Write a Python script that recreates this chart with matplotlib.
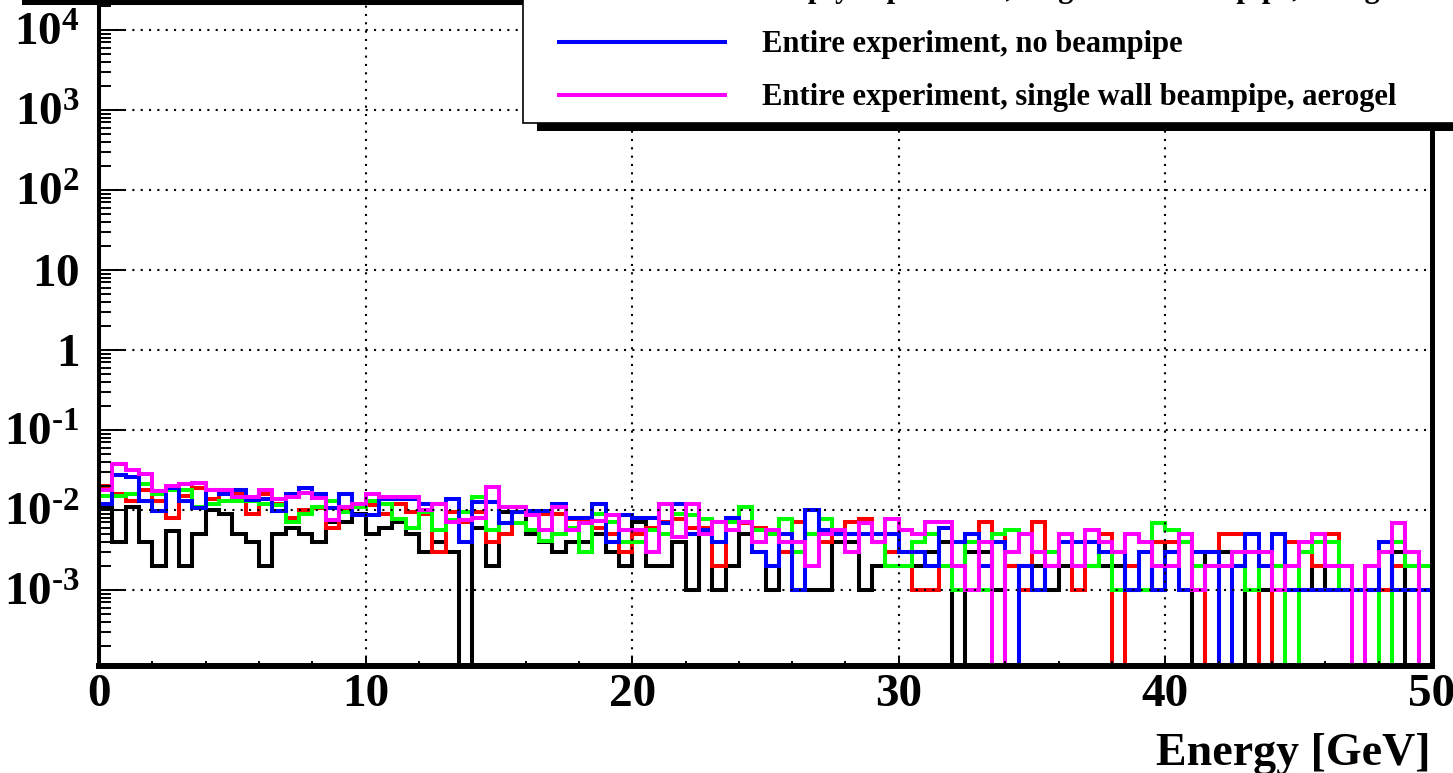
import numpy as np
import matplotlib
matplotlib.use("Agg")
import matplotlib.pyplot as plt
from matplotlib.patches import Rectangle
from matplotlib.lines import Line2D
from matplotlib.ticker import FixedLocator, FixedFormatter, MultipleLocator, LogLocator

plt.rcParams['font.family'] = ['Liberation Serif', 'DejaVu Serif']
plt.rcParams['font.weight'] = 'bold'
plt.rcParams['mathtext.fontset'] = 'custom'
plt.rcParams['mathtext.rm'] = 'Liberation Serif:bold'
plt.rcParams['mathtext.it'] = 'Liberation Serif:bold'
plt.rcParams['mathtext.bf'] = 'Liberation Serif:bold'

# 100 bins of 0.5 GeV from 0 to 50 GeV
edges = np.linspace(0, 50, 101)

black = [0.011, 0.004, 0.011, 0.004, 0.002, 0.0055, 0.002, 0.005, 0.01, 0.009,
         0.005, 0.004, 0.002, 0.005, 0.006, 0.005, 0.004, 0.007, 0.007, 0.009,
         0.005, 0.006, 0.007, 0.005, 0.003, 0.004, 0.003, 0, 0.006, 0.002,
         0.0095, 0.0095, 0.005, 0.004, 0.003, 0.004, 0.004, 0.005, 0.003, 0.002,
         0.007, 0.002, 0.002, 0.004, 0.001, 0.005, 0.001, 0.002, 0.005, 0.003,
         0.001, 0.003, 0.001, 0.001, 0.001, 0.004, 0.004, 0.001, 0.002, 0.002,
         0.002, 0.002, 0.003, 0.004, 0, 0.003, 0.003, 0.001, 0.002, 0.002,
         0.002, 0.001, 0.002, 0.002, 0.002, 0.002, 0.002, 0.001, 0.001, 0.004,
         0.003, 0.004, 0, 0.003, 0.003, 0.002, 0, 0.001, 0.002, 0.001,
         0.001, 0.002, 0.001, 0.001, 0.001, 0.001, 0.001, 0.003, 0, 0.001]

red = [0.02, 0.016, 0.013, 0.018, 0.013, 0.008, 0.015, 0.019, 0.0136, 0.016,
       0.016, 0.009, 0.016, 0.012, 0.008, 0.01, 0.0105, 0.006, 0.01, 0.0115,
       0.0115, 0.009, 0.012, 0.0095, 0.009, 0.003, 0.0095, 0.007, 0.0095, 0.004,
       0.005, 0.0095, 0.009, 0.009, 0.009, 0.0077, 0.0077, 0.006, 0.005, 0.003,
       0.005, 0.006, 0.007, 0.0077, 0.006, 0.006, 0.002, 0.007, 0.0068, 0.006,
       0.005, 0.003, 0.007, 0.005, 0.004, 0.005, 0.007, 0.0077, 0.004, 0.003,
       0.003, 0.001, 0.001, 0.002, 0.002, 0.005, 0.007, 0.005, 0.002, 0.001,
       0.007, 0.002, 0.005, 0.001, 0.002, 0.005, 0, 0.002, 0.003, 0.004,
       0.004, 0.004, 0.002, 0, 0.005, 0.005, 0.003, 0, 0.002, 0.004,
       0.003, 0.002, 0.005, 0.002, 0.001, 0.001, 0.001, 0.002, 0.002, 0.002]

green = [0.015, 0.015, 0.016, 0.021, 0.016, 0.018, 0.018, 0.011, 0.012, 0.013,
         0.013, 0.013, 0.012, 0.0115, 0.007, 0.009, 0.011, 0.013, 0.0095, 0.011,
         0.013, 0.012, 0.0077, 0.006, 0.0095, 0.0056, 0.0075, 0.0095, 0.0147, 0.0057,
         0.0068, 0.0068, 0.0056, 0.0041, 0.005, 0.006, 0.003, 0.009, 0.007, 0.004,
         0.004, 0.0057, 0.005, 0.009, 0.0087, 0.0077, 0.007, 0.007, 0.0108, 0.0057,
         0.005, 0.0077, 0.003, 0.005, 0.0077, 0.005, 0.005, 0.005, 0.004, 0.002,
         0.002, 0.004, 0.005, 0.002, 0.001, 0.004, 0.001, 0.005, 0.0057, 0.005,
         0.003, 0.003, 0.004, 0.004, 0.002, 0.003, 0.001, 0.001, 0.001, 0.0068,
         0.0057, 0.004, 0.002, 0.002, 0.002, 0.002, 0.001, 0.002, 0.002, 0,
         0.003, 0.004, 0.004, 0.001, 0.001, 0.002, 0, 0.004, 0.002, 0.002]

blue = [0.012, 0.027, 0.026, 0.013, 0.0097, 0.019, 0.013, 0.0105, 0.018, 0.016,
        0.018, 0.0133, 0.0136, 0.0097, 0.016, 0.019, 0.016, 0.0107, 0.016, 0.0087,
        0.0087, 0.0136, 0.0136, 0.0136, 0.0118, 0.012, 0.0136, 0.004, 0.0127, 0.0127,
        0.0068, 0.0095, 0.0097, 0.0097, 0.0118, 0.0079, 0.0079, 0.012, 0.004, 0.0087,
        0.0079, 0.0079, 0.0068, 0.012, 0.005, 0.0057, 0.004, 0.0079, 0.007, 0.003,
        0.002, 0.005, 0.001, 0.01, 0.0057, 0.005, 0.005, 0.005, 0.005, 0.005,
        0.003, 0.003, 0.002, 0.006, 0.004, 0.005, 0.002, 0.004, 0, 0.002,
        0.001, 0.002, 0.004, 0.004, 0.004, 0.003, 0.003, 0.001, 0.003, 0.001,
        0.003, 0.001, 0.003, 0.003, 0, 0.002, 0.005, 0.002, 0.005, 0.001,
        0.001, 0.001, 0.001, 0.001, 0.001, 0.001, 0.004, 0.001, 0.001, 0.001]

magenta = [0.018, 0.038, 0.032, 0.028, 0.0175, 0.02, 0.021, 0.022, 0.018, 0.0178,
           0.0145, 0.0145, 0.018, 0.0136, 0.0147, 0.0165, 0.014, 0.0074, 0.011, 0.012,
           0.016, 0.0147, 0.0147, 0.0147, 0.01, 0.0118, 0.007, 0.0075, 0.0079, 0.0195,
           0.0108, 0.0108, 0.0087, 0.0057, 0.0108, 0.0057, 0.0068, 0.0072, 0.0087, 0.0057,
           0.0057, 0.003, 0.012, 0.0046, 0.012, 0.005, 0.007, 0.0057, 0.007, 0.004,
           0.0057, 0.004, 0.004, 0.002, 0.005, 0.0057, 0.003, 0.0068, 0.004, 0.0077,
           0.0057, 0.005, 0.007, 0.007, 0.002, 0.001, 0.004, 0, 0.003, 0.005,
           0.003, 0.002, 0.005, 0.002, 0.0057, 0.004, 0.003, 0.005, 0.004, 0.002,
           0.002, 0.005, 0.001, 0.002, 0.002, 0.003, 0.003, 0.003, 0.001, 0.002,
           0.004, 0.005, 0.002, 0.002, 0, 0.002, 0.003, 0.0068, 0.003, 0]

series = [(black, 'black'), (red, '#ff0000'), (green, '#00ff00'),
          (blue, '#0000ff'), (magenta, '#ff00ff')]

legend_labels = ['Empty experiment, single wall beampipe, aerogel',
                 'Entire experiment, no beampipe',
                 'Entire experiment, single wall beampipe, aerogel']
legend_colors = ['#00ff00', '#0000ff', '#ff00ff']

ytick_vals = [1e-3, 1e-2, 1e-1, 1, 10, 1e2, 1e3, 1e4]
ytick_text = [r'$10^{\text{-}3}$', r'$10^{\text{-}2}$', r'$10^{\text{-}1}$', r'$1$', r'$10$',
              r'$10^{2}$', r'$10^{3}$', r'$10^{4}$']

W, H = 1453, 773
fig = plt.figure(figsize=(W / 100, H / 100), dpi=100)
ax = fig.add_axes([99 / W, (H - 666) / H, (1432 - 99) / W, (666 - 3) / H])

for vals, c in series:
    v = np.asarray(vals, dtype=float)
    v = np.where(v > 0, v, 1e-7)
    st = ax.stairs(v, edges, color=c, lw=2.9, baseline=None)
    st.set_joinstyle('miter')
    st.set_capstyle('butt')

ax.set_yscale('log')
ax.set_xlim(0, 50)
ax.set_ylim(10 ** -3.95, 10 ** 4.3375)

ax.yaxis.set_major_locator(FixedLocator(ytick_vals))
ax.yaxis.set_major_formatter(FixedFormatter(ytick_text))
ax.yaxis.set_minor_locator(LogLocator(base=10, subs=np.arange(2, 10), numticks=30))
ax.yaxis.set_minor_formatter(FixedFormatter([]))
ax.xaxis.set_major_locator(MultipleLocator(10))
ax.xaxis.set_minor_locator(MultipleLocator(2))

ax.tick_params(which='both', direction='in', top=False, right=False, width=1.4)
ax.tick_params(axis='y', which='major', length=18, pad=14, labelsize=34)
ax.tick_params(axis='y', which='minor', length=8.6)
ax.tick_params(axis='x', which='major', length=7.2, pad=6, labelsize=34)
ax.tick_params(axis='x', which='minor', length=3.6)

ax.grid(True, which='major', color='black', ls=(0, (1, 3)), lw=1.5)

ax.spines['left'].set_linewidth(2.9)
ax.spines['bottom'].set_linewidth(4.3)
ax.spines['right'].set_linewidth(3.6)
ax.spines['top'].set_linewidth(2.9)

fig.text(1430 / W, 1 - 765 / H, 'Energy [GeV]', ha='right', va='baseline',
         fontsize=33, fontweight='bold')


def fx(x):
    return x / W


def fy(y):
    return 1 - y / H


# title box shadow at the top left
fig.add_artist(Rectangle((fx(22), fy(5)), fx(523) - fx(22), 6 / H,
                         transform=fig.transFigure, facecolor='black',
                         edgecolor='none', zorder=10))

# legend box with shadow
fig.add_artist(Rectangle((fx(537), fy(131)), 1.1 - fx(537), 0.5,
                         transform=fig.transFigure, facecolor='black',
                         edgecolor='none', zorder=9))
fig.add_artist(Rectangle((fx(523), fy(123)), 1.1 - fx(523), 0.5,
                         transform=fig.transFigure, facecolor='white',
                         edgecolor='black', lw=1.2, zorder=10))

baselines = [-3, 52, 105]
for lab, c, yb in zip(legend_labels, legend_colors, baselines):
    yl = yb - 10
    fig.add_artist(Line2D([fx(559), fx(725)], [fy(yl), fy(yl)], color=c, lw=2.9,
                          transform=fig.transFigure, zorder=11))
    fig.text(fx(762), fy(yb), lab, ha='left', va='baseline', fontsize=22,
             fontweight='bold', zorder=11)

fig.savefig('out.png', dpi=100)
